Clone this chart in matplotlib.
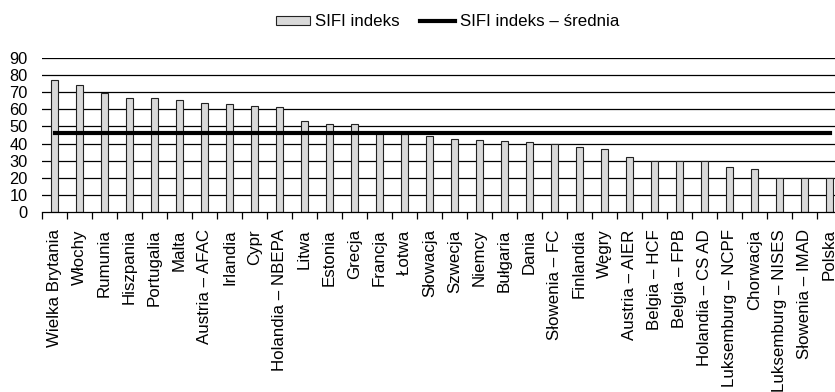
import numpy as np
import matplotlib.pyplot as plt
from matplotlib.ticker import FixedLocator, NullFormatter

plt.rcParams["font.family"] = ["Liberation Sans", "DejaVu Sans"]

# SIFI index per institution, sorted descending
countries = [
    "Wielka Brytania", "Włochy", "Rumunia", "Hiszpania", "Portugalia", "Malta",
    "Austria – AFAC", "Irlandia", "Cypr", "Holandia – NBEPA", "Litwa", "Estonia",
    "Grecja", "Francja", "Łotwa", "Słowacja", "Szwecja", "Niemcy", "Bułgaria",
    "Dania", "Słowenia – FC", "Finlandia", "Węgry", "Austria – AIER",
    "Belgia – HCF", "Belgia – FPB", "Holandia – CS AD", "Luksemburg – NCPF",
    "Chorwacja", "Luksemburg – NISES", "Słowenia – IMAD", "Polska",
]
sifi = [
    77.0, 74.4, 69.5, 66.4, 66.4, 65.6,
    63.6, 63.2, 61.7, 61.3, 53.3, 51.3,
    51.3, 46.0, 45.5, 44.5, 42.9, 42.0, 41.6,
    41.2, 39.6, 37.7, 36.7, 32.4,
    30.0, 30.0, 30.0, 26.3,
    25.0, 20.0, 20.0, 20.0,
]
yticks = list(range(0, 100, 10))

x = np.arange(len(countries))
mean_val = np.mean(sifi)
fs = 12.2

fig = plt.figure(figsize=(8.35, 3.92), dpi=100)
ax = fig.add_axes([42 / 835, 180 / 392, 800 / 835, 154 / 392])

for yv in yticks[1:]:
    ax.axhline(yv, color="black", lw=0.9, zorder=0)

bars = ax.bar(x, sifi, width=0.3, color="#d9d9d9", edgecolor="#222222",
              linewidth=0.8, zorder=2, label="SIFI indeks")
avg_line, = ax.plot([x[0], x[-1]], [mean_val, mean_val], color="black", lw=3,
                    zorder=3, label="SIFI indeks – średnia")

ax.set_xlim(-0.5, len(countries) - 0.5)
ax.set_ylim(0, 90)
ax.set_yticks(yticks)
ax.tick_params(axis="y", length=0, pad=10.5, labelsize=11.8)

ax.set_xticks(x)
ax.set_xticklabels(countries, rotation=90, fontsize=fs)
ax.tick_params(axis="x", which="major", length=0, pad=12.5)
ax.xaxis.set_minor_locator(FixedLocator(np.arange(-0.5, len(countries), 1)))
ax.xaxis.set_minor_formatter(NullFormatter())
ax.tick_params(axis="x", which="minor", length=5, width=0.9, color="black")

for side in ["top", "right", "left"]:
    ax.spines[side].set_visible(False)
ax.spines["bottom"].set_linewidth(0.9)

fig.legend(handles=[bars, avg_line], loc="center", bbox_to_anchor=(0.536, 0.944),
           ncol=2, frameon=False, fontsize=fs, handlelength=2.05,
           handletextpad=0.3, columnspacing=1.2, handleheight=0.42)

fig.savefig("out.png", dpi=100)
